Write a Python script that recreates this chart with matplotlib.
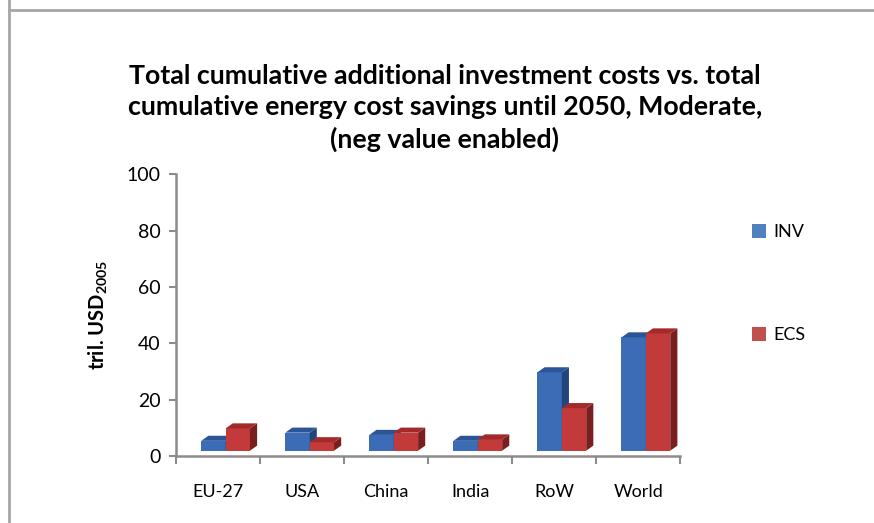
import numpy as np
import matplotlib
matplotlib.use('Agg')
import matplotlib.pyplot as plt
from matplotlib.patches import Polygon
from matplotlib.lines import Line2D

plt.rcParams['font.family'] = ['Lato', 'DejaVu Sans']
plt.rcParams['mathtext.fontset'] = 'custom'
plt.rcParams['mathtext.rm'] = 'Lato'
plt.rcParams['mathtext.bf'] = 'Lato:bold'

# data (tril. USD 2005)
regions = ['EU-27', 'USA', 'China', 'India', 'RoW', 'World']
inv = [3.5, 6.4, 5.6, 3.5, 27.8, 40.2]
ecs = [7.9, 3.0, 6.4, 4.0, 15.1, 41.6]

# colours: front, top, side
blue = ('#3d6cb7', '#2b5597', '#22467c')
red = ('#c23a3a', '#a22a2a', '#7a1f1f')

fig = plt.figure(figsize=(8.74, 5.23), dpi=100)
ax = fig.add_axes([0.2014, 0.128, 0.577, 0.539])

floor = 1.9      # front plane sits a bit above the back axis line
bw = 0.29        # bar width in category units
dx, dy = 0.085, 1.8   # depth offset for top / side faces
shift = 0.09

x = np.arange(len(regions)) + 0.5 + shift


def bar3d(ax, left, h, cols):
    x0, x1 = left, left + bw
    y0, y1 = floor, floor + h
    ax.add_patch(Polygon([(x0, y0), (x1, y0), (x1, y1), (x0, y1)],
                         closed=True, fc=cols[0], ec='none', zorder=3))
    ax.add_patch(Polygon([(x1, y0), (x1 + dx, y0 + dy), (x1 + dx, y1 + dy), (x1, y1)],
                         closed=True, fc=cols[2], ec='none', zorder=3))
    ax.add_patch(Polygon([(x0, y1), (x1, y1), (x1 + dx, y1 + dy), (x0 + dx, y1 + dy)],
                         closed=True, fc=cols[1], ec='none', zorder=3))


for xi, a, b in zip(x, inv, ecs):
    bar3d(ax, xi - bw, a, blue)
    bar3d(ax, xi, b, red)

ax.set_xlim(0, len(regions))
ax.set_ylim(0, 100)
ax.set_yticks(np.arange(0, 101, 20))
ax.set_xticks(np.arange(0, len(regions) + 1))
ax.set_xticklabels([])
ax.set_xticks(np.arange(len(regions)) + 0.5, minor=True)
ax.set_xticklabels(regions, minor=True)
ax.tick_params(axis='x', which='major', length=6, color='#8c8c8c', width=1.5)
ax.tick_params(axis='x', which='minor', length=0, pad=20, labelsize=13)
ax.tick_params(axis='y', length=5, color='#8c8c8c', width=1.5, labelsize=14, pad=6)

for s in ['top', 'right']:
    ax.spines[s].set_visible(False)
for s in ['left', 'bottom']:
    ax.spines[s].set_color('#8c8c8c')
    ax.spines[s].set_linewidth(1.8)

ax.set_ylabel(r'tril. USD$_\mathbf{2005}$', fontsize=14.5, fontweight='bold', labelpad=12)

fig.text(0.509, 0.794,
         'Total cumulative additional investment costs vs. total\n'
         'cumulative energy cost savings until 2050, Moderate,\n'
         '(neg value enabled)',
         ha='center', va='center', fontsize=19.3, fontweight='bold', linespacing=1.36)

handles = [plt.Rectangle((0, 0), 1, 1, fc='#4f81bd'),
           plt.Rectangle((0, 0), 1, 1, fc='#c0504d')]
fig.legend(handles, ['INV', 'ECS'], loc='upper left', bbox_to_anchor=(0.852, 0.585),
           frameon=False, fontsize=13, handlelength=0.8, handleheight=0.8,
           handletextpad=0.4, labelspacing=4.8, borderaxespad=0)

# frame lines of the original chart area
fig.add_artist(Line2D([0.0105, 0.0105], [0, 1], color='#a6a6a6', lw=2))
fig.add_artist(Line2D([0.0105, 1], [0.981, 0.981], color='#a6a6a6', lw=2))

fig.savefig('out.png', dpi=100)
